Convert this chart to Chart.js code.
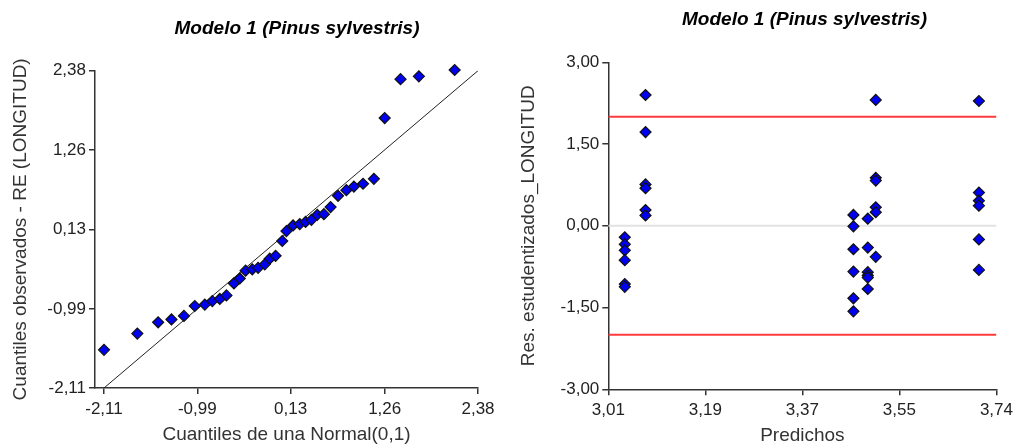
<!DOCTYPE html>
<html>
<head>
<meta charset="utf-8">
<script src="https://cdn.jsdelivr.net/npm/chart.js@4"></script>
<style>
  body { margin: 0; background: #fff; overflow: hidden; }
  canvas { position: absolute; top: 0; }
  #qq { left: 0; }
  #res { left: 509px; }
</style>
</head>
<body>
<canvas id="qq" width="509" height="448"></canvas>
<canvas id="res" width="509" height="448"></canvas>
<script>
const plotTitle = 'Modelo 1 (Pinus sylvestris)';

// Q-Q plot: theoretical vs observed quantiles
const qqTheoretical = [-2.11, -1.71, -1.46, -1.30, -1.15, -1.02, -0.90, -0.81, -0.72, -0.64,
  -0.55, -0.48, -0.41, -0.33, -0.26, -0.18, -0.12, -0.05, 0.03, 0.08,
  0.16, 0.24, 0.31, 0.38, 0.45, 0.53, 0.61, 0.70, 0.80, 0.89,
  1.00, 1.13, 1.26, 1.45, 1.67, 2.10];
const qqObserved = [-1.57, -1.34, -1.18, -1.14, -1.09, -0.95, -0.93, -0.88, -0.85, -0.80,
  -0.63, -0.56, -0.45, -0.43, -0.41, -0.36, -0.28, -0.24, -0.03, 0.11,
  0.19, 0.21, 0.24, 0.27, 0.34, 0.35, 0.45, 0.61, 0.69, 0.74,
  0.78, 0.85, 1.71, 2.26, 2.30, 2.39];
const qqTicks = [-2.11, -0.99, 0.13, 1.26, 2.38];
const qqXMin = -2.218;

// studentized residuals vs predicted
const predicted = [3.041, 3.041, 3.041, 3.041, 3.041, 3.041,
  3.080, 3.080, 3.080, 3.080, 3.080, 3.080,
  3.471, 3.471, 3.471, 3.471, 3.471, 3.471,
  3.498, 3.498, 3.498, 3.498, 3.498, 3.498,
  3.513, 3.513, 3.513, 3.513, 3.513, 3.513,
  3.707, 3.707, 3.707, 3.707, 3.707, 3.707];
const residuals = [-0.21, -0.34, -0.45, -0.63, -1.07, -1.12,
  2.40, 1.72, 0.76, 0.69, 0.29, 0.19,
  0.20, -0.01, -0.43, -0.84, -1.33, -1.57,
  0.13, -0.40, -0.85, -0.91, -0.95, -1.16,
  2.31, 0.88, 0.83, 0.34, 0.25, -0.57,
  2.29, 0.61, 0.46, 0.37, -0.25, -0.81];
const resXTicks = ['3,01', '3,19', '3,37', '3,55', '3,74'];
const resXRange = [3.01, 3.74];
const resYTicks = [-3, -1.5, 0, 1.5, 3];
const resLimits = [-2, 2];

const family = "'Liberation Sans', Arial, sans-serif";
const comma = v => v.toFixed(2).replace('.', ',');

const titlePlugin = {
  id: 'plotTitle',
  afterDraw(chart, args, opts) {
    const ctx = chart.ctx;
    ctx.save();
    ctx.font = 'italic bold 19px ' + family;
    ctx.fillStyle = '#000';
    ctx.textAlign = 'center';
    ctx.textBaseline = 'middle';
    ctx.fillText(plotTitle, opts.x, opts.y);
    ctx.restore();
  }
};

function axis(extra) {
  return Object.assign({
    type: 'linear',
    grid: { drawOnChartArea: false, tickLength: 6, color: '#333', lineWidth: 1.5 },
    border: { color: '#333', width: 1.5 }
  }, extra);
}

const tickFont = { family, size: 17 };
const titleFont = { family, size: 19 };

const marker = {
  pointStyle: 'rectRot',
  pointRadius: 5.5,
  pointBackgroundColor: '#0000f0',
  pointBorderColor: '#111',
  pointBorderWidth: 1.2,
  showLine: false,
  clip: false
};

new Chart(document.getElementById('qq'), {
  type: 'scatter',
  data: {
    datasets: [
      Object.assign({ data: qqTheoretical.map((x, i) => ({ x, y: qqObserved[i] })) }, marker),
      {
        data: [{ x: qqTicks[0], y: qqTicks[0] }, { x: qqTicks[4], y: qqTicks[4] }],
        showLine: true, borderColor: '#222', borderWidth: 1, pointRadius: 0
      }
    ]
  },
  options: {
    responsive: false,
    animation: false,
    devicePixelRatio: 1,
    layout: { padding: { left: 0, right: 31, top: 70.7, bottom: 0 } },
    plugins: { legend: { display: false }, tooltip: { enabled: false }, plotTitle: { x: 297, y: 29 } },
    scales: {
      x: axis({
        min: qqXMin, max: qqTicks[4],
        afterBuildTicks: s => { s.ticks = qqTicks.map(v => ({ value: v })); },
        afterFit: s => { s.height = 60; },
        ticks: { color: '#222', font: tickFont, padding: 5, maxRotation: 0, autoSkip: false, callback: v => comma(v) },
        title: { display: true, text: 'Cuantiles de una Normal(0,1)', color: '#333', font: titleFont, padding: { top: 0, bottom: 1.5 } }
      }),
      y: axis({
        min: qqTicks[0], max: qqTicks[4],
        afterBuildTicks: s => { s.ticks = qqTicks.map(v => ({ value: v })); },
        afterFit: s => { s.width = 95; },
        ticks: { color: '#222', font: tickFont, padding: 3, autoSkip: false, callback: v => comma(v) },
        title: { display: true, text: 'Cuantiles observados - RE (LONGITUD)', color: '#333', font: titleFont, padding: { top: 9.6, bottom: 0 } }
      })
    }
  },
  plugins: [titlePlugin]
});

const hLine = (y, color) => ({
  data: [{ x: resXRange[0], y }, { x: resXRange[1], y }],
  showLine: true, borderColor: color, borderWidth: 2, pointRadius: 0
});

new Chart(document.getElementById('res'), {
  type: 'scatter',
  data: {
    datasets: [
      Object.assign({ data: predicted.map((x, i) => ({ x, y: residuals[i] })) }, marker),
      hLine(resLimits[0], '#ff3b3b'),
      hLine(resLimits[1], '#ff3b3b'),
      hLine(0, '#e2e2e2')
    ]
  },
  options: {
    responsive: false,
    animation: false,
    devicePixelRatio: 1,
    layout: { padding: { left: 0, right: 21.3, top: 62.3, bottom: 0 } },
    plugins: { legend: { display: false }, tooltip: { enabled: false }, plotTitle: { x: 295.5, y: 19.7 } },
    scales: {
      x: axis({
        min: resXRange[0], max: resXRange[1],
        afterBuildTicks: s => {
          const step = (resXRange[1] - resXRange[0]) / (resXTicks.length - 1);
          s.ticks = resXTicks.map((_, i) => ({ value: resXRange[0] + i * step }));
        },
        afterFit: s => { s.height = 58.7; },
        ticks: { color: '#222', font: tickFont, padding: 5, maxRotation: 0, autoSkip: false, callback: (v, i) => resXTicks[i] },
        title: { display: true, text: 'Predichos', color: '#333', font: titleFont, padding: { top: 0, bottom: 0.5 } }
      }),
      y: axis({
        min: resYTicks[0], max: resYTicks[resYTicks.length - 1],
        afterBuildTicks: s => { s.ticks = resYTicks.map(v => ({ value: v })); },
        afterFit: s => { s.width = 99.3; },
        ticks: { color: '#222', font: tickFont, padding: 3, autoSkip: false, callback: v => comma(v) },
        title: { display: true, text: 'Res. estudentizados_LONGITUD', color: '#333', font: titleFont, padding: { top: 8.6, bottom: 0 } }
      })
    }
  },
  plugins: [titlePlugin]
});
</script>
</body>
</html>
